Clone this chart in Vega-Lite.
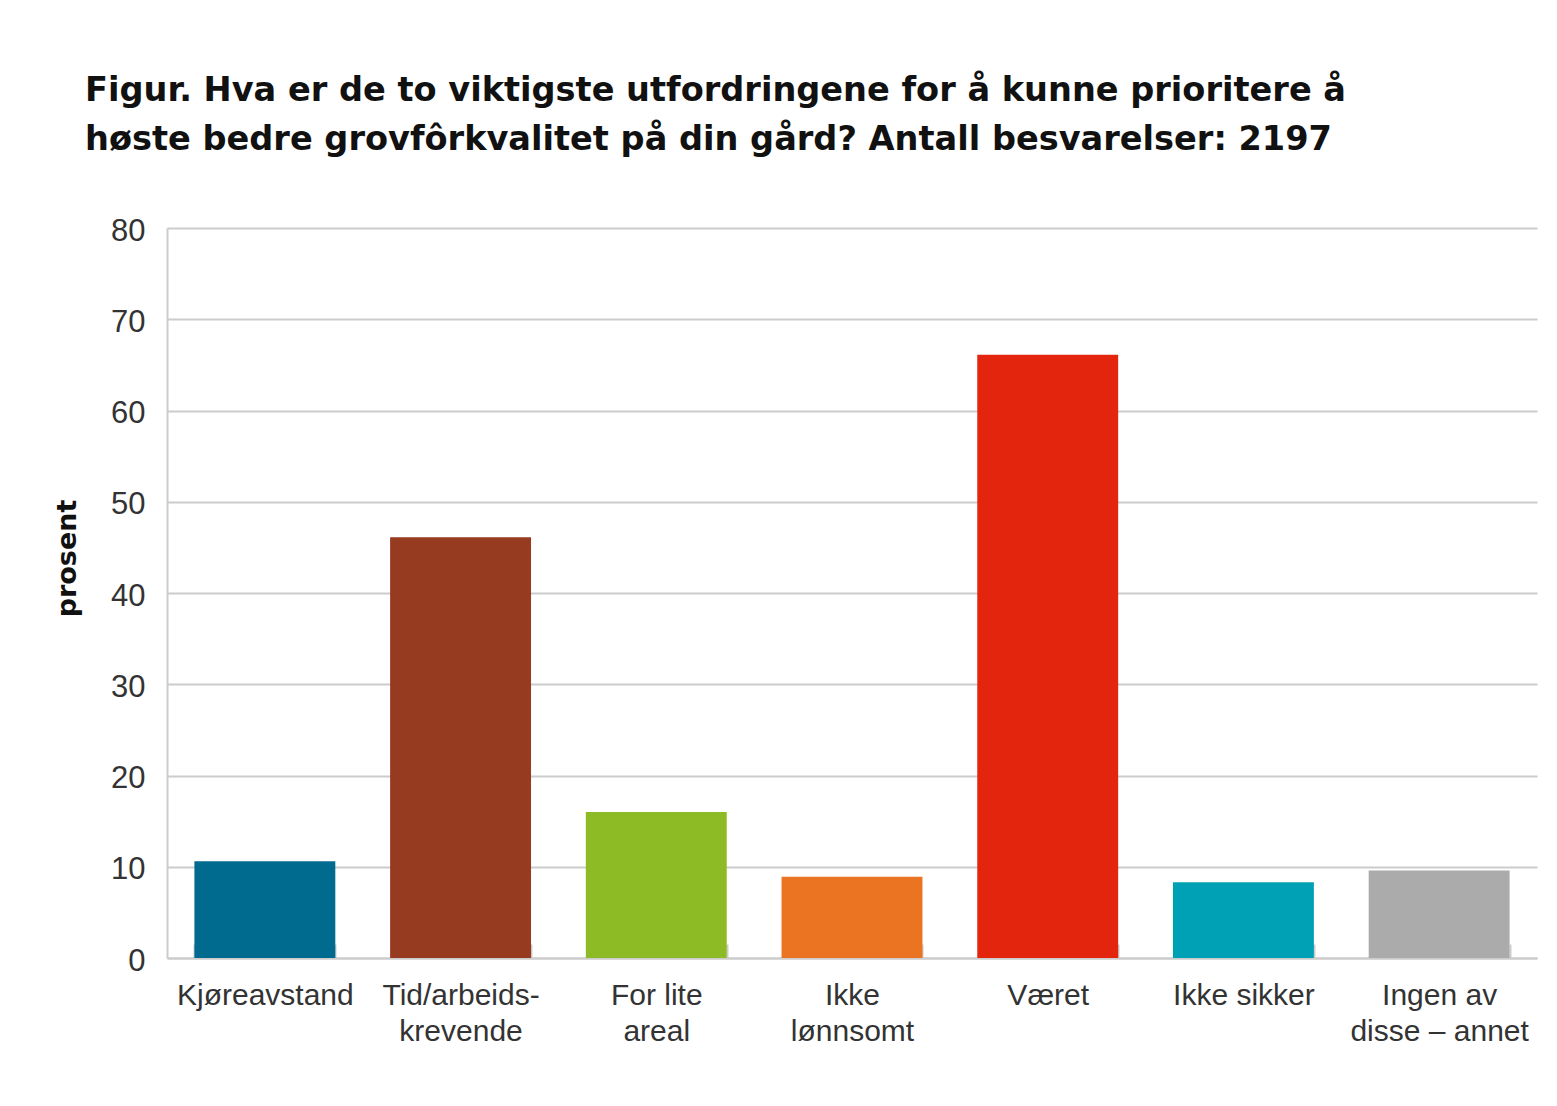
{
  "$schema": "https://vega.github.io/schema/vega-lite/v6.json",
  "width": 1370,
  "height": 730,
  "autosize": {"type": "none"},
  "padding": {"left": 167, "top": 228, "right": 20, "bottom": 148},
  "background": "white",
  "title": {
    "text": ["Figur. Hva er de to viktigste utfordringene for å kunne prioritere å", "høste bedre grovfôrkvalitet på din gård? Antall besvarelser: 2197"],
    "anchor": "start",
    "frame": "group",
    "dx": -82,
    "offset": 58,
    "font": "DejaVu Sans",
    "fontSize": 33.6,
    "fontWeight": "bold",
    "color": "#111111",
    "lineHeight": 49
  },
  "data": {
    "values": [
      {"kategori": "Kjøreavstand", "prosent": 10.6},
      {"kategori": "Tid/arbeids-\nkrevende", "prosent": 46.1},
      {"kategori": "For lite\nareal", "prosent": 16.0},
      {"kategori": "Ikke\nlønnsomt", "prosent": 8.9},
      {"kategori": "Været", "prosent": 66.1},
      {"kategori": "Ikke sikker", "prosent": 8.3},
      {"kategori": "Ingen av\ndisse – annet", "prosent": 9.6}
    ]
  },
  "mark": {"type": "bar"},
  "encoding": {
    "x": {
      "field": "kategori",
      "type": "nominal",
      "sort": null,
      "scale": {"paddingInner": 0.28, "paddingOuter": 0.14},
      "axis": {
        "title": null,
        "labelAngle": 0,
        "labelExpr": "split(datum.label, '\\n')",
        "labelFont": "Liberation Sans",
        "labelFontSize": 30,
        "labelLimit": 400,
        "labelColor": "#333333",
        "labelLineHeight": 36,
        "labelPadding": 36,
        "tickBand": "extent",
        "tickSize": -14,
        "tickColor": "#cccccc",
        "tickWidth": 2,
        "domainColor": "#cccccc",
        "domainWidth": 2,
        "grid": false
      }
    },
    "y": {
      "field": "prosent",
      "type": "quantitative",
      "scale": {"domain": [0, 80]},
      "axis": {
        "title": "prosent",
        "titleFont": "DejaVu Sans",
        "titleFontSize": 27,
        "titleFontWeight": "bold",
        "titleColor": "#111111",
        "titleAngle": -90,
        "titleX": -100,
        "titleY": 330,
        "titleAlign": "center",
        "titleBaseline": "middle",
        "values": [0, 10, 20, 30, 40, 50, 60, 70, 80],
        "labelFont": "Liberation Sans",
        "labelFontSize": 31,
        "labelColor": "#333333",
        "labelPadding": 22,
        "labelOffset": 3,
        "ticks": false,
        "domainColor": "#cccccc",
        "domainWidth": 2,
        "gridColor": "#cccccc",
        "gridWidth": 2
      }
    },
    "color": {
      "field": "kategori",
      "type": "nominal",
      "sort": null,
      "legend": null,
      "scale": {
        "domain": ["Kjøreavstand", "Tid/arbeids-\nkrevende", "For lite\nareal", "Ikke\nlønnsomt", "Været", "Ikke sikker", "Ingen av\ndisse – annet"],
        "range": ["#006a8f", "#963a20", "#8dbb25", "#eb7422", "#e2250c", "#00a0b5", "#ababab"]
      }
    }
  },
  "config": {"view": {"stroke": null}}
}
